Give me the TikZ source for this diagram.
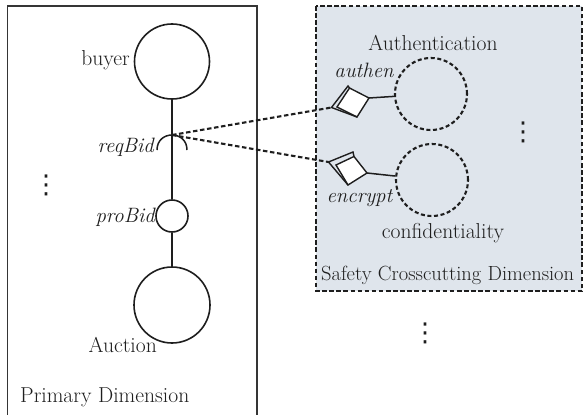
\documentclass[tikz,border=0pt]{standalone}
\usepackage{fontspec}
\newfontfamily\symfont{DejaVu Sans}
\begin{document}
\definecolor{panel}{RGB}{223,229,236}
\definecolor{ink}{RGB}{30,30,30}
\begin{tikzpicture}[x=1pt,y=-1pt,
  lbl/.style={font=\fontsize{21.6}{25}\selectfont, inner sep=0, text=ink},
  ital/.style={lbl, font=\fontsize{20.8}{24}\selectfont\itshape},
  role/.style={circle, draw=ink, line width=1.6pt, inner sep=0, fill=white},
  aspect/.style={circle, draw=ink, line width=2.1pt, dash pattern=on 4pt off 2.6pt, inner sep=0},
  link/.style={draw=ink, line width=1.5pt},
  weave/.style={draw=ink, line width=2.1pt, dash pattern=on 4.5pt off 2.6pt},
  portline/.style={draw=ink, line width=1.4pt, line join=miter},
  ellip/.style={inner sep=0, text=ink, font=\symfont\fontsize{26}{26}\selectfont}]
\useasboundingbox (0,0) rectangle (584,415);

% primary dimension frame (runs past the lower edge)
\draw[draw=ink!90, line width=1.8pt] (7.5,430) -- (7.5,6) -- (257,6) -- (257,430);

% safety crosscutting panel
\draw[fill=panel, weave] (316,6) rectangle (582,291);

% primary roles
\node[role, minimum size=75pt] (buyer) at (172,61.5) {};
\node[role, minimum size=32pt] (proBid) at (172,216) {};
\node[role, minimum size=76pt] (auction) at (172,305) {};
\coordinate (reqBid) at (172,135);

\draw[link] (buyer) -- (proBid);
\draw[link] (proBid) -- (auction);
% required interface drawn as an open cup
\draw[link] (157,150) .. controls (157,130) and (187,130) .. (187,150);

\node[lbl, anchor=base east] (buyerL) at (130,65) {buyer};
\node[ital, anchor=base east] (reqBidL) at (154,152) {reqBid};
\node[ital, anchor=base east] (proBidL) at (155,222) {proBid};
\node[lbl, anchor=base east] (auctionL) at (157,352) {Auction};
\node[lbl, anchor=base west] (primL) at (20,402) {Primary Dimension};
\node[ellip] (dotsA) at (46,185) {⋮};

% aspect roles
\node[aspect, minimum size=72pt] (authC) at (431,94) {};
\node[aspect, minimum size=72pt] (confC) at (432,180) {};

% port of the authentication aspect
\coordinate (p1L) at (337,107);
\coordinate (p1T) at (349.5,88);
\coordinate (p1R) at (369,98);
\coordinate (p1B) at (357,117);
\coordinate (p1O) at (331.5,107.5);
\coordinate (p1U) at (348,86);
\draw[portline, fill=white] (p1L) -- (p1T) -- (p1R) -- (p1B) -- cycle;
\draw[portline] (p1B) -- (p1O) -- (p1U) -- (p1T);

% port of the confidentiality aspect
\coordinate (p2L) at (336,165);
\coordinate (p2T) at (354,156.5);
\coordinate (p2R) at (367,173);
\coordinate (p2B) at (348,185);
\coordinate (p2O) at (328.5,162);
\coordinate (p2U) at (353,152);
\draw[portline, fill=white] (p2L) -- (p2T) -- (p2R) -- (p2B) -- cycle;
\draw[portline] (p2B) -- (p2O) -- (p2U) -- (p2T);

\draw[link] (p1R) -- (authC);
\draw[link] (p2R) -- (confC);

% crosscutting bindings
\draw[weave] (reqBid) -- (p1O);
\draw[weave] (reqBid) -- (p2O);

\node[lbl, anchor=base] (authT) at (433,50) {Authentication};
\node[ital, anchor=base] (authenL) at (364,77) {authen};
\node[ital, anchor=base] (encryptL) at (359.5,202) {encrypt};
\node[lbl, anchor=base] (confT) at (443,238) {confidentiality};
\node[lbl, font=\fontsize{20.5}{24}\selectfont, anchor=base west] (safeL) at (321,280) {Safety Crosscutting Dimension};
\node[ellip] (dotsB) at (523,132) {⋮};
\node[ellip] (dotsC) at (425,333) {⋮};
\end{tikzpicture}
\end{document}
